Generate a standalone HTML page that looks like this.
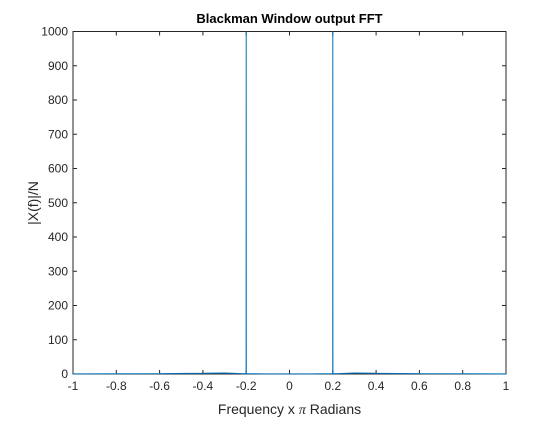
<!DOCTYPE html>
<html><head><meta charset="utf-8"><style>
body{margin:0;background:#fff;}
svg text{font-family:"Liberation Sans",Arial,sans-serif;}
</style></head><body>
<svg id="chart" width="560" height="420" viewBox="0 0 560 420">
<rect x="0" y="0" width="560" height="420" fill="#fff"/>
<rect x="73" y="31.5" width="433" height="342.5" fill="#fff" stroke="none"/>
<text x="289.5" y="23" text-anchor="middle" font-size="13" font-weight="bold" fill="#000">Blackman Window output FFT</text>
<text x="289.5" y="414" text-anchor="middle" font-size="14" fill="#262626">Frequency x <tspan font-family="Liberation Serif,serif" font-style="italic">π</tspan> Radians</text>
<text transform="translate(38,203) rotate(-90)" text-anchor="middle" font-size="14" fill="#262626">|X(f)|/N</text>
<g id="axes"></g>
<g id="series"></g>
</svg>
<script>
const xTicks=[-1,-0.8,-0.6,-0.4,-0.2,0,0.2,0.4,0.6,0.8,1];
const xTickLabels=["-1","-0.8","-0.6","-0.4","-0.2","0","0.2","0.4","0.6","0.8","1"];
const yTicks=[0,100,200,300,400,500,600,700,800,900,1000];
const yTickLabels=["0","100","200","300","400","500","600","700","800","900","1000"];
const freq=[-1,-0.6,-0.4,-0.3,-0.22,-0.2005,-0.2,-0.1995,-0.1,0,0.1,0.1995,0.2,0.2005,0.22,0.3,0.4,0.6,1];
const mag=[0.5,1,2,3,1,1,2500,1,0.5,0.5,0.5,1,2500,1,1,3,2,1,0.5];
const L=73,R=506,T=31.5,B=374,yMax=1000;
const NS="http://www.w3.org/2000/svg";
function xs(v){return L+(v+1)/2*(R-L);}
function ys(v){return B-Math.min(v,yMax)/yMax*(B-T);}
function mk(t,a,p){const e=document.createElementNS(NS,t);for(const k in a)e.setAttribute(k,a[k]);p.appendChild(e);return e;}
const ax=document.getElementById('axes'),se=document.getElementById('series');
let d='';
freq.forEach((f,i)=>{d+=(i?'L':'M')+xs(f).toFixed(2)+','+ys(mag[i]).toFixed(2);});
const ln=mk('path',{d:d,fill:'none',stroke:'#0072BD','stroke-width':1,'stroke-linejoin':'bevel'},se);


const box=mk('rect',{x:L,y:T,width:R-L,height:B-T,fill:'none',stroke:'#262626','stroke-width':1},ax);


xTicks.forEach((v,i)=>{
 const x=xs(v);
 mk('line',{x1:x,x2:x,y1:B,y2:B-4,stroke:'#262626'},ax);
 mk('line',{x1:x,x2:x,y1:T,y2:T+4,stroke:'#262626'},ax);
 const t=mk('text',{x:x,y:B+16,'text-anchor':'middle','font-size':12,fill:'#262626'},ax);
 t.textContent=xTickLabels[i];
 
 
});
yTicks.forEach((v,i)=>{
 const y=ys(v);
 mk('line',{x1:L,x2:L+4,y1:y,y2:y,stroke:'#262626'},ax);
 mk('line',{x1:R,x2:R-4,y1:y,y2:y,stroke:'#262626'},ax);
 const t=mk('text',{x:L-5,y:y+4,'text-anchor':'end','font-size':12,fill:'#262626'},ax);
 t.textContent=yTickLabels[i];
 
 
});
</script>
</body></html>
